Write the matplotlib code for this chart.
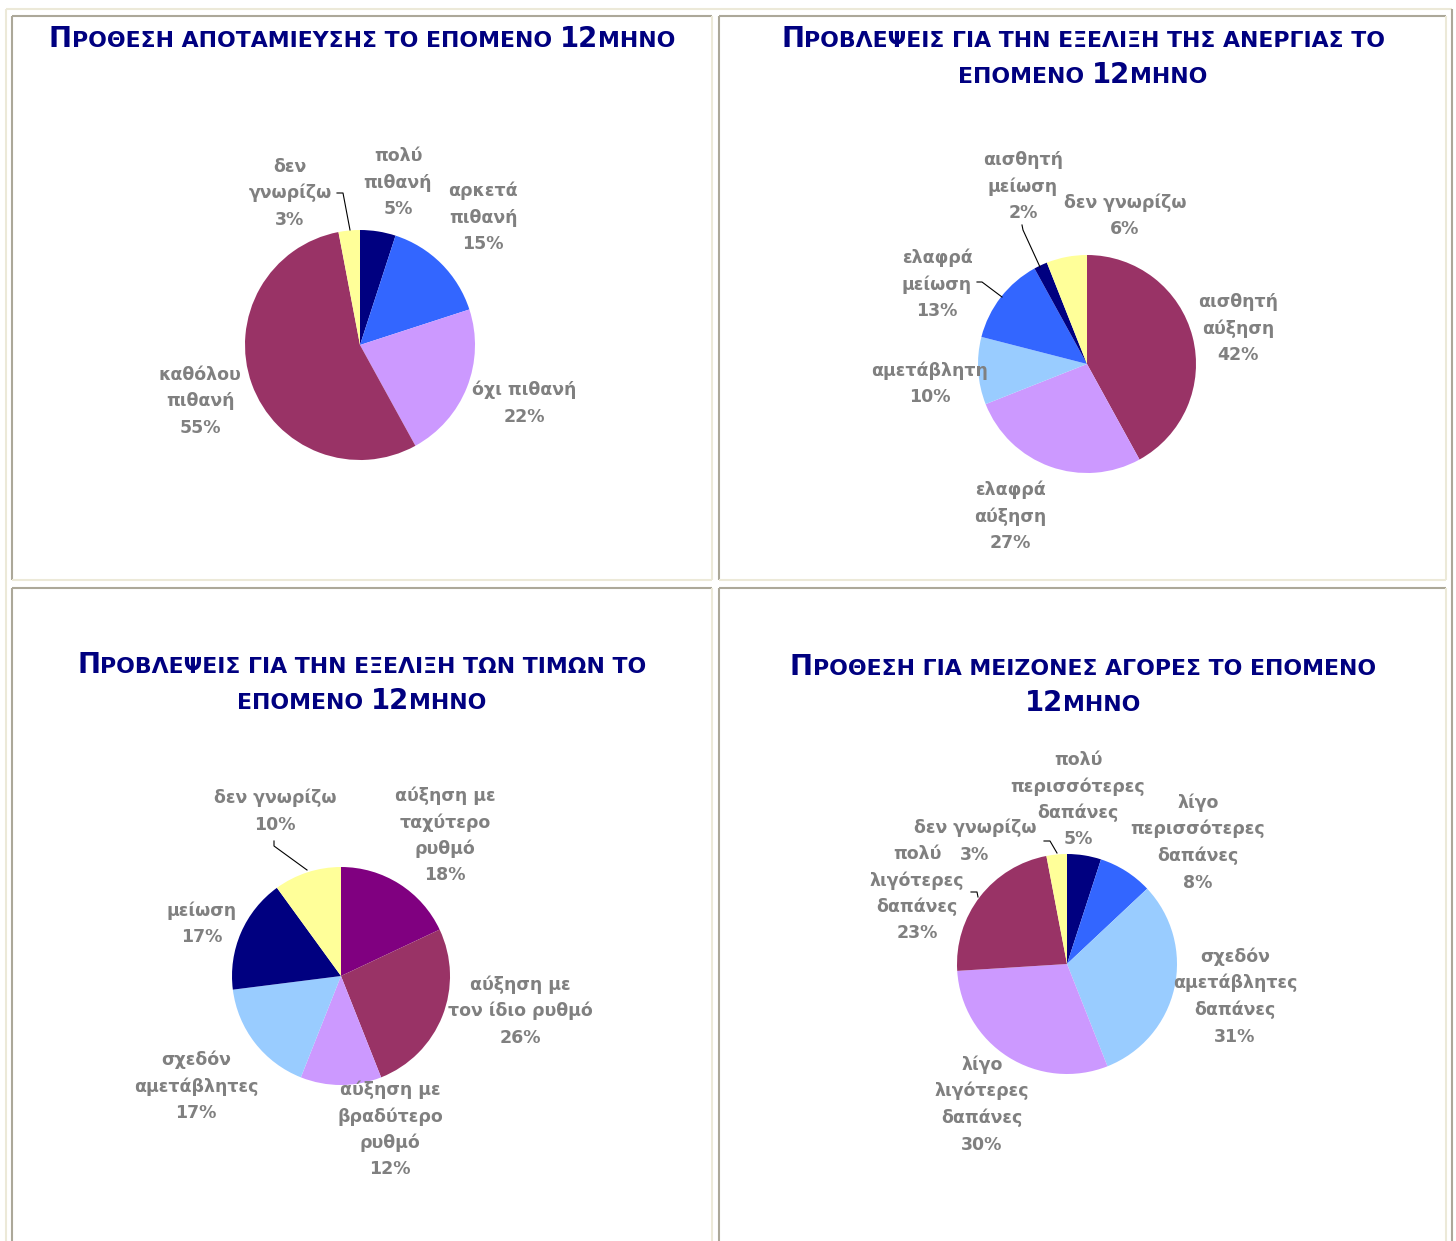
import matplotlib
matplotlib.use("Agg")
import matplotlib.pyplot as plt
from matplotlib.lines import Line2D

# ---------------- data ----------------
NAVY = '#000080'; BLUE = '#3366FF'; LILAC = '#CC99FF'; PLUM = '#993366'
YELLOW = '#FFFF99'; SKY = '#99CCFF'; PURPLE = '#800080'

savings_title = ["ΠΡΟΘΕΣΗ ΑΠΟΤΑΜΙΕΥΣΗΣ ΤΟ ΕΠΟΜΕΝΟ 12ΜΗΝΟ"]
savings_labels = ["πολύ\nπιθανή", "αρκετά\nπιθανή", "όχι πιθανή", "καθόλου\nπιθανή", "δεν\nγνωρίζω"]
savings_values = [5, 15, 22, 55, 3]
savings_colors = [NAVY, BLUE, LILAC, PLUM, YELLOW]

unemp_title = ["ΠΡΟΒΛΕΨΕΙΣ ΓΙΑ ΤΗΝ ΕΞΕΛΙΞΗ ΤΗΣ ΑΝΕΡΓΙΑΣ ΤΟ", "ΕΠΟΜΕΝΟ 12ΜΗΝΟ"]
unemp_labels = ["αισθητή\nαύξηση", "ελαφρά\nαύξηση", "αμετάβλητη", "ελαφρά\nμείωση",
                "αισθητή\nμείωση", "δεν γνωρίζω"]
unemp_values = [42, 27, 10, 13, 2, 6]
unemp_colors = [PLUM, LILAC, SKY, BLUE, NAVY, YELLOW]

prices_title = ["ΠΡΟΒΛΕΨΕΙΣ ΓΙΑ ΤΗΝ ΕΞΕΛΙΞΗ ΤΩΝ ΤΙΜΩΝ ΤΟ", "ΕΠΟΜΕΝΟ 12ΜΗΝΟ"]
prices_labels = ["αύξηση με\nταχύτερο\nρυθμό", "αύξηση με\nτον ίδιο ρυθμό",
                 "αύξηση με\nβραδύτερο\nρυθμό", "σχεδόν\nαμετάβλητες", "μείωση", "δεν γνωρίζω"]
prices_values = [18, 26, 12, 17, 17, 10]
prices_colors = [PURPLE, PLUM, LILAC, SKY, NAVY, YELLOW]

purch_title = ["ΠΡΟΘΕΣΗ ΓΙΑ ΜΕΙΖΟΝΕΣ ΑΓΟΡΕΣ ΤΟ ΕΠΟΜΕΝΟ", "12ΜΗΝΟ"]
purch_labels = ["πολύ\nπερισσότερες\nδαπάνες", "λίγο\nπερισσότερες\nδαπάνες",
                "σχεδόν\nαμετάβλητες\nδαπάνες", "λίγο\nλιγότερες\nδαπάνες",
                "πολύ\nλιγότερες\nδαπάνες", "δεν γνωρίζω"]
purch_values = [5, 8, 31, 30, 23, 3]
purch_colors = [NAVY, BLUE, SKY, LILAC, PLUM, YELLOW]

# ---------------- figure ----------------
W, H, DPI = 1456, 1241, 100
fig = plt.figure(figsize=(W / DPI, H / DPI), dpi=DPI)
fig.patch.set_facecolor('white')
renderer = fig.canvas.get_renderer()

GRAY_TXT = '#808080'
LIGHT_B = '#ECE9D8'
DARK_B = '#ACA899'
FONT = 'DejaVu Sans'


def fx(x):
    return x / W


def fy(y):
    return 1 - y / H


def hline(x1, x2, y, color, lw=1.5):
    fig.add_artist(Line2D([fx(x1), fx(x2)], [fy(y), fy(y)], transform=fig.transFigure,
                          color=color, lw=lw, solid_capstyle='butt'))


def vline(x, y1, y2, color, lw=1.5):
    fig.add_artist(Line2D([fx(x), fx(x)], [fy(y1), fy(y2)], transform=fig.transFigure,
                          color=color, lw=lw, solid_capstyle='butt'))


# outer table borders
vline(6, 9, 1241, LIGHT_B)
hline(6, 1452, 9, LIGHT_B)
vline(1452, 9, 1241, DARK_B)


def cell(l, t, r, b):
    hline(l, r, t, DARK_B)
    vline(l, t, b, DARK_B)
    hline(l, r, b, LIGHT_B)
    vline(r, t, b, LIGHT_B)


cell(12, 16, 712, 580)
cell(719, 16, 1446, 580)
cell(12, 588, 712, 1260)
cell(719, 588, 1446, 1260)

# ---------------- titles (small caps) ----------------
BIG, SMALL = 19.8, 15.8


def text_w(s, size):
    t = fig.text(0, 0, s, fontsize=size, weight='bold', family=FONT)
    w = t.get_window_extent(renderer).width
    t.remove()
    return w


def smallcaps_line(text, cx, base_y, first_big):
    runs = []
    for i, ch in enumerate(text):
        isbig = ch.isdigit() or (first_big and i == 0)
        if runs and runs[-1][1] == isbig:
            runs[-1][0] += ch
        else:
            runs.append([ch, isbig])
    pieces = []
    total = 0
    for s, b in runs:
        size = BIG if b else SMALL
        core = s.strip(' ')
        lead = len(s) - len(s.lstrip(' '))
        trail = len(s) - len(s.rstrip(' '))
        sp = text_w('Α Α', size) - text_w('ΑΑ', size)
        w = text_w(core, size)
        pieces.append((core, size, lead * sp, w, trail * sp))
        total += lead * sp + w + trail * sp
    x = cx - total / 2
    for core, size, lsp, w, tsp in pieces:
        x += lsp
        fig.text(fx(x), fy(base_y), core, fontsize=size, weight='bold', color=NAVY,
                 family=FONT, ha='left', va='baseline')
        x += w + tsp


def title(lines, cx, base_y, pitch=36):
    for i, ln in enumerate(lines):
        smallcaps_line(ln, cx, base_y + i * pitch, first_big=(i == 0))


title(savings_title, 362, 47)
title(unemp_title, 1083, 47)
title(prices_title, 362, 673)
title(purch_title, 1083, 675)


# ---------------- pies ----------------
def pie(cx, cy, r, values, colors):
    ax = fig.add_axes([fx(cx - r), fy(cy + r), 2 * r / W, 2 * r / H])
    ax.pie(values, colors=colors, startangle=90, counterclock=False, radius=1,
           wedgeprops=dict(linewidth=0))
    ax.set_xlim(-1, 1)
    ax.set_ylim(-1, 1)
    ax.axis('off')
    return ax


PITCH = 26.5


def label(text, value, x, base_y):
    lines = text.split('\n') + [f"{value}%"]
    for i, ln in enumerate(lines):
        fig.text(fx(x), fy(base_y + i * PITCH), ln, fontsize=12.5, weight='bold',
                 color=GRAY_TXT, family=FONT, ha='center', va='baseline')


def leader(pts):
    fig.add_artist(Line2D([fx(p[0]) for p in pts], [fy(p[1]) for p in pts],
                          transform=fig.transFigure, color='black', lw=0.8))


# pie 1
pie(360, 345, 115, savings_values, savings_colors)
pos1 = [(398, 161), (483, 196), (524, 395), (200, 380), (290, 172)]
for lab, v, (x, y) in zip(savings_labels, savings_values, pos1):
    label(lab, v, x, y)
leader([(337, 193), (343, 193), (350, 230)])

# pie 2
pie(1087, 364, 109, unemp_values, unemp_colors)
pos2 = [(1238, 307), (1010, 495), (930, 376), (937, 263), (1023, 165), (1125, 208)]
for lab, v, (x, y) in zip(unemp_labels, unemp_values, pos2):
    label(lab, v, x, y)
leader([(1022, 225), (1023, 230), (1040, 267)])
leader([(977, 282), (982, 282), (1002, 297)])

# pie 3
pie(341, 976, 109, prices_values, prices_colors)
pos3 = [(445, 801), (520, 990), (390, 1095), (196, 1065), (202, 916), (275, 803)]
for lab, v, (x, y) in zip(prices_labels, prices_values, pos3):
    label(lab, v, x, y)
leader([(274, 841), (274, 846), (307, 870)])

# pie 4
pie(1067, 964, 110, purch_values, purch_colors)
pos4 = [(1078, 765), (1198, 808), (1235, 962), (982, 1070), (917, 859), (975, 833)]
for lab, v, (x, y) in zip(purch_labels, purch_values, pos4):
    label(lab, v, x, y)
leader([(1044, 841), (1050, 841), (1057, 853)])
leader([(971, 892), (977, 892), (978, 897)])

fig.savefig('out.png', dpi=DPI, facecolor='white')
